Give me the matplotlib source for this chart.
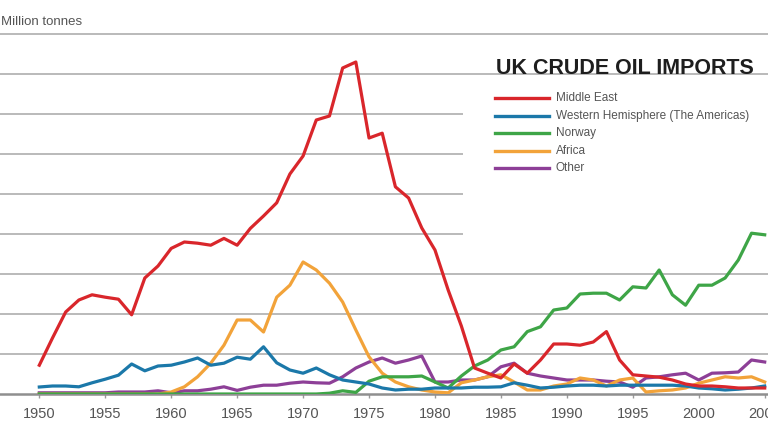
import matplotlib
matplotlib.use("Agg")
import matplotlib.pyplot as plt
from matplotlib.patches import Rectangle

plt.rcParams["font.family"] = ["Liberation Sans", "DejaVu Sans"]

years = list(range(1950, 2006))

middle_east = [7.2, 14, 20.5, 23.5, 24.8, 24.2, 23.7, 19.8, 29, 32,
               36.4, 38, 37.7, 37.2, 38.9, 37.2, 41.4, 44.5, 47.8, 55,
               59.5, 68.5, 69.5, 81.5, 83, 64, 65.2, 51.8, 49, 41.5,
               36, 26, 17, 6.5, 5.2, 4, 7.5, 5.2, 8.5, 12.5,
               12.5, 12.2, 13, 15.6, 8.5, 4.8, 4.5, 4.2, 3.5, 2.5,
               2, 2, 1.8, 1.5, 1.5, 1.5]
western_hemisphere = [1.75, 2, 2, 1.8, 2.8, 3.7, 4.7, 7.5, 5.8, 7,
                      7.2, 8, 9, 7.2, 7.7, 9.2, 8.7, 11.8, 7.8, 6,
                      5.2, 6.5, 4.8, 3.5, 3, 2.5, 1.5, 1, 1.2, 1.2,
                      1.5, 1.5, 1.5, 1.7, 1.7, 1.8, 2.8, 2.2, 1.5, 1.7,
                      2, 2.2, 2.2, 2, 2.2, 2.2, 2.2, 2.2, 2.2, 2,
                      1.5, 1.3, 1, 1.2, 1.5, 2]
norway = [0] * 22 + [0.2, 0.8, 0.4, 3.2, 4.3, 4.3, 4.3, 4.5,
                     3, 1.5, 4.5, 7, 8.5, 11, 11.8, 15.6, 16.8, 21,
                     21.5, 25, 25.2, 25.2, 23.5, 26.8, 26.5, 31, 24.8, 22.2,
                     27.2, 27.2, 29, 33.5, 40.2, 39.8]
africa = [0] * 10 + [0.5, 1.8, 4.3, 7.7, 12.2, 18.5, 18.5, 15.5, 24.2, 27.2,
                     33, 31, 27.7, 23, 16, 9.3, 5.2, 3, 1.8, 1,
                     0.5, 0.3, 2.8, 3.5, 4.3, 4.8, 3, 1, 1, 2,
                     2.5, 4, 3.5, 2, 3.5, 4, 0.5, 0.8, 1, 1.5,
                     2.7, 3.5, 4.3, 4, 4.3, 3]
other = [0.3, 0.3, 0.3, 0.3, 0.3, 0.3, 0.5, 0.5, 0.5, 0.8,
         0.3, 0.8, 0.8, 1.2, 1.8, 0.9, 1.7, 2.2, 2.2, 2.7,
         3, 2.8, 2.7, 4.3, 6.5, 8, 9, 7.7, 8.5, 9.5,
         3, 3, 3.5, 3.5, 4.3, 6.8, 7.7, 5.2, 4.5, 4,
         3.5, 3.5, 3.5, 3.2, 3, 1.7, 4, 4.3, 4.8, 5.2,
         3.5, 5.2, 5.3, 5.5, 8.5, 8]

series = [
    ("Middle East", middle_east, "#d9262b"),
    ("Western Hemisphere (The Americas)", western_hemisphere, "#1b78a9"),
    ("Norway", norway, "#3ea547"),
    ("Africa", africa, "#f2a33a"),
    ("Other", other, "#8d3f97"),
]

fig = plt.figure(figsize=(7.68, 4.32), dpi=100)
ax = fig.add_axes([0, 1 - 394 / 432, 1, 360 / 432])
ax.set_xlim(1947.02, 2005.25)
ax.set_ylim(0, 90)

# horizontal grid
for v in range(10, 100, 10):
    ax.axhline(v, color="#b4b4b4", lw=1.3, zorder=1, clip_on=False)

# white legend panel hides the grid behind the title
ax.add_patch(Rectangle((463 / 768, 0.385), 1, 0.5, transform=ax.transAxes,
                       facecolor="white", edgecolor="none", zorder=1.5))

# other first so the big lines sit on top
for name, vals, col in reversed(series):
    ax.plot(years, vals, color=col, lw=2.3, zorder=3, solid_joinstyle="round")

for s in ["top", "right", "left"]:
    ax.spines[s].set_visible(False)
ax.spines["bottom"].set_color("#8f8f8f")
ax.spines["bottom"].set_linewidth(1.8)
ax.spines["bottom"].set_zorder(2)
ax.set_yticks([])
ax.set_xticks(range(1950, 2010, 5))
ax.tick_params(axis="x", direction="out", length=3, width=1, color="#9a9a9a",
               labelsize=10.5, labelcolor="#555555", pad=6)

# title and legend
fig.text(496 / 768, 1 - 68 / 432, "UK CRUDE OIL IMPORTS", fontsize=15.5,
         fontweight="bold", color="#1e1e1e", va="center", ha="left")
leg_y = [98, 116, 133, 151, 168]
for (name, vals, col), yp in zip(series, leg_y):
    fig.add_artist(plt.Line2D([495 / 768, 549 / 768], [1 - yp / 432] * 2,
                              color=col, lw=2.4))
    fig.text(556 / 768, 1 - yp / 432, name, fontsize=8.5, color="#555555",
             va="center", ha="left")

fig.text(1 / 768, 1 - 22 / 432, "Million tonnes", fontsize=9.5,
         color="#555555", va="center", ha="left")

fig.savefig("out.png", dpi=100)
